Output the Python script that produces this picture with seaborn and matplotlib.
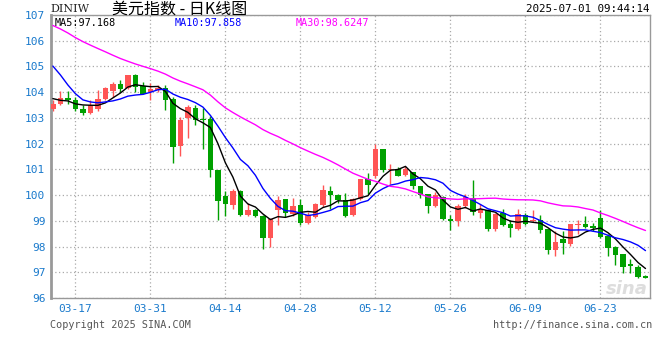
import numpy as np
import pandas as pd
import seaborn as sns
import matplotlib.pyplot as plt

# daily candles, 2025-03-12 .. 2025-07-01
opens = [103.36, 103.55, 103.79, 103.71, 103.36, 103.19, 103.36, 103.72, 104.04, 104.30,
         104.16, 104.65, 104.24, 104.01, 104.07, 104.18, 103.73, 101.91, 102.98, 103.40,
         102.97, 102.95, 100.99, 99.98, 99.63, 100.17, 99.23, 99.42, 99.19, 98.32,
         99.42, 99.85, 99.27, 99.62, 98.91, 99.14, 99.62, 100.16, 100.01, 99.81,
         99.24, 99.83, 100.63, 100.73, 101.80, 100.97, 101.03, 100.80, 100.89, 100.37,
         100.05, 99.59, 99.92, 99.08, 98.99, 99.57, 99.90, 99.31, 99.42, 98.69,
         99.29, 98.86, 98.69, 99.21, 98.99, 99.05, 98.67, 97.85, 98.31, 98.11,
         98.83, 98.89, 98.80, 99.10, 98.41, 97.99, 97.72, 97.31, 97.20, 96.84]
highs = [103.68, 104.04, 104.04, 103.81, 103.49, 103.68, 104.10, 104.20, 104.40, 104.46,
         104.65, 104.72, 104.40, 104.37, 104.27, 104.27, 103.80, 103.05, 103.50, 103.50,
         103.39, 103.06, 100.99, 100.15, 100.24, 100.20, 99.71, 99.45, 99.22, 99.10,
         99.97, 99.85, 99.88, 99.85, 99.36, 99.71, 100.40, 100.36, 100.05, 100.07,
         99.88, 100.63, 100.86, 101.99, 101.80, 101.19, 101.08, 101.12, 100.89, 100.37,
         100.05, 100.11, 99.96, 99.21, 99.64, 100.03, 100.58, 99.64, 99.47, 99.31,
         99.44, 99.03, 99.44, 99.29, 99.42, 99.21, 98.67, 98.60, 98.60, 98.89,
         99.03, 99.19, 98.90, 99.42, 98.47, 98.02, 97.72, 97.50, 97.28, 96.88]
lows = [103.25, 103.49, 103.55, 103.25, 103.12, 103.16, 103.25, 103.68, 103.81, 104.01,
        104.14, 104.01, 103.94, 103.68, 104.01, 103.30, 101.25, 101.52, 102.20, 102.74,
        101.79, 100.69, 99.02, 99.20, 99.46, 99.17, 99.17, 99.16, 97.90, 97.97,
        98.84, 99.16, 99.19, 98.84, 98.88, 99.10, 99.55, 99.45, 99.71, 99.14,
        99.20, 99.80, 100.06, 100.67, 100.89, 100.45, 100.74, 100.76, 100.24, 99.89,
        99.31, 99.55, 99.05, 98.66, 98.79, 99.51, 99.21, 99.12, 98.60, 98.60,
        98.80, 98.37, 98.66, 98.82, 98.95, 98.51, 97.70, 97.63, 97.72, 98.02,
        98.48, 98.73, 98.60, 98.35, 97.63, 97.28, 96.98, 96.98, 96.79, 96.79]
closes = [103.55, 103.77, 103.68, 103.33, 103.19, 103.49, 103.75, 104.16, 104.30, 104.14,
          104.65, 104.20, 103.94, 104.14, 104.18, 103.70, 101.88, 102.90, 103.42, 102.92,
          102.93, 100.96, 99.78, 99.67, 100.15, 99.24, 99.43, 99.19, 98.32, 99.06,
          99.81, 99.29, 99.58, 98.91, 99.23, 99.66, 100.20, 100.01, 99.79, 99.19,
          99.85, 100.63, 100.41, 101.80, 100.97, 101.03, 100.76, 101.02, 100.34, 100.02,
          99.59, 100.02, 99.07, 98.99, 99.57, 99.94, 99.34, 99.47, 98.67, 99.25,
          98.82, 98.73, 99.25, 98.86, 99.05, 98.64, 97.86, 98.19, 98.12, 98.86,
          98.89, 98.76, 98.71, 98.37, 97.96, 97.67, 97.20, 97.26, 96.81, 96.79]
# closes before the visible window, needed for the moving averages at the left edge
prior_close = [107.80, 108.37, 108.70, 107.90, 107.60, 107.70, 108.00, 108.30, 107.95, 107.90,
               107.30, 106.70, 106.80, 107.10, 107.20, 106.40, 106.60, 106.60, 106.30, 106.40,
               107.20, 107.60, 106.70, 105.60, 104.30, 104.10, 103.80, 103.90, 103.40]

tick_labels = ["03-17", "03-31", "04-14", "04-28", "05-12", "05-26", "06-09", "06-23"]
ma_labels = ["MA5:97.168", "MA10:97.858", "MA30:98.6247"]

dates = pd.bdate_range("2025-03-12", "2025-07-01")
df = pd.DataFrame({"date": dates, "open": opens, "high": highs, "low": lows, "close": closes})
df["x"] = np.arange(len(df))
full = pd.Series(prior_close + closes)
for n in (5, 10, 30):
    df[f"ma{n}"] = full.rolling(n).mean().iloc[-len(df):].to_numpy()

sns.set_theme(style="white")
plt.rcParams["font.family"] = ["DejaVu Sans Mono", "Noto Sans CJK SC"]

W, H = 660, 360
fig = plt.figure(figsize=(W / 100, H / 100), dpi=100)
ax = fig.add_axes([51 / W, 62 / H, 599 / W, 283 / H])

# =====================
# CANDLES
# =====================
up = df["close"] >= df["open"]
colors = np.where(up, "#ff5555", "#00a000")
ax.vlines(df["x"], df["low"], df["high"], colors=colors, lw=1, zorder=2)
body = (df["close"] - df["open"]).abs().clip(lower=0.04)
ax.bar(df["x"], body, bottom=df[["open", "close"]].min(axis=1), width=0.72,
       color=colors, linewidth=0, zorder=3)

# =====================
# MOVING AVERAGES
# =====================
sns.lineplot(data=df, x="x", y="ma5", color="black", lw=1, ax=ax, zorder=4)
sns.lineplot(data=df, x="x", y="ma10", color="#0000ff", lw=1, ax=ax, zorder=4)
sns.lineplot(data=df, x="x", y="ma30", color="#ff00ff", lw=1, ax=ax, zorder=4)

# =====================
# AXES
# =====================
tick_pos = [df.index[df["date"] == pd.Timestamp("2025-" + t)][0] for t in tick_labels]
ax.set_xlim(-0.25, len(df) - 0.4)
ax.set_ylim(96, 107)
ax.set_yticks(range(96, 108))
ax.set_xticks(tick_pos)
ax.set_xticklabels(tick_labels)
ax.set_xlabel("")
ax.set_ylabel("")
ax.grid(True, color="#aaaaaa", ls=(0, (1, 2)), lw=0.9)
ax.set_axisbelow(True)
ax.tick_params(length=0, labelsize=8, labelcolor="#1a7acc")
ax.tick_params(axis="x", pad=4)
ax.tick_params(axis="y", pad=4)
for s in ax.spines.values():
    s.set_color("#999999")
    s.set_linewidth(1)
ax.spines["left"].set_linewidth(2)

# legend row inside the plot
for lab, col, px in zip(ma_labels, ["black", "#0000ff", "#ff00ff"], [55, 175, 296]):
    fig.text(px / W, 1 - 23 / H, lab, color=col, fontsize=7.3, va="center")

# header
fig.text(50 / W, 1 - 9 / H, "DINIW", fontsize=8, va="center", color="#222222",
         family="DejaVu Serif")
fig.text(112 / W, 1 - 9 / H, "美元指数 - 日K线图", fontsize=11.5, va="center",
         color="black", family=["Noto Sans CJK SC", "DejaVu Sans"])
fig.text(649 / W, 1 - 9 / H, "2025-07-01 09:44:14", fontsize=7.8, va="center",
         ha="right", color="black")

# footer
fig.text(50 / W, 1 - 325 / H, "Copyright 2025 SINA.COM", fontsize=7.3, va="center",
         color="#555555")
fig.text(652 / W, 1 - 325 / H, "http://finance.sina.com.cn", fontsize=7.3, va="center",
         ha="right", color="#555555")

# faint watermark
fig.text(648 / W, 1 - 289 / H, "sina", fontsize=13, va="center", ha="right",
         color="#dddddd", style="italic", weight="bold", family="DejaVu Sans", zorder=1)

fig.savefig("out.png", dpi=100)
